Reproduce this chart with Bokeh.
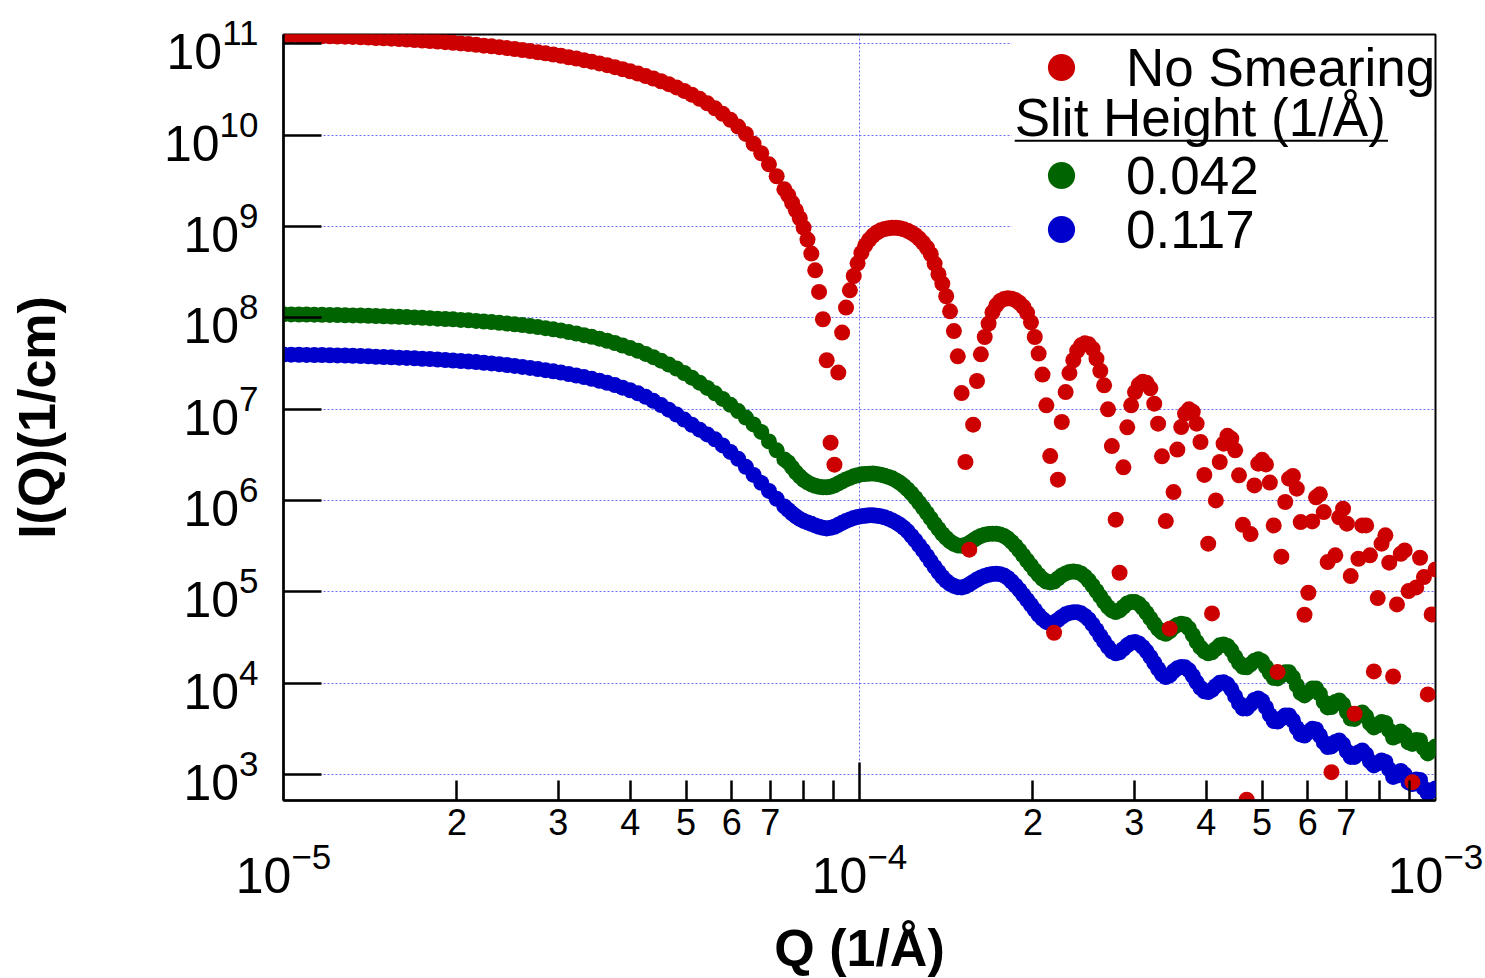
from bokeh.plotting import figure
from bokeh.models import (Range1d, LogAxis, FixedTicker, CustomJSTickFormatter,
                          Legend, LegendItem, Label, BoxAnnotation)
from bokeh.embed import file_html
from bokeh.resources import INLINE

# ---------------- data (log10 values) ----------------
log10_q = [
    -5.0000, -4.9866, -4.9732, -4.9599, -4.9465, -4.9331, -4.9197, -4.9064, -4.8930, -4.8796,
    -4.8662, -4.8528, -4.8395, -4.8261, -4.8127, -4.7993, -4.7860, -4.7726, -4.7592, -4.7458,
    -4.7324, -4.7191, -4.7057, -4.6923, -4.6789, -4.6656, -4.6522, -4.6388, -4.6254, -4.6120,
    -4.5987, -4.5853, -4.5719, -4.5585, -4.5452, -4.5318, -4.5184, -4.5050, -4.4916, -4.4783,
    -4.4649, -4.4515, -4.4381, -4.4247, -4.4114, -4.3980, -4.3846, -4.3712, -4.3579, -4.3445,
    -4.3311, -4.3177, -4.3043, -4.2910, -4.2776, -4.2642, -4.2508, -4.2375, -4.2241, -4.2107,
    -4.1973, -4.1839, -4.1706, -4.1572, -4.1438, -4.1304,
    -4.1237, -4.1171, -4.1104, -4.1037, -4.0970, -4.0903, -4.0836, -4.0769, -4.0702, -4.0635,
    -4.0569, -4.0502, -4.0435, -4.0368, -4.0301, -4.0234, -4.0167, -4.0100, -4.0033, -3.9967,
    -3.9900, -3.9833, -3.9766, -3.9699, -3.9632, -3.9565, -3.9498, -3.9431, -3.9365, -3.9298,
    -3.9231, -3.9164, -3.9097, -3.9030, -3.8963, -3.8896, -3.8829, -3.8763, -3.8696, -3.8629,
    -3.8562, -3.8495, -3.8428, -3.8361, -3.8294, -3.8227, -3.8161, -3.8094, -3.8027, -3.7960,
    -3.7893, -3.7826, -3.7759, -3.7692, -3.7625, -3.7559, -3.7492, -3.7425, -3.7358, -3.7291,
    -3.7224, -3.7157, -3.7090, -3.7023, -3.6957, -3.6890, -3.6823, -3.6756, -3.6689, -3.6622,
    -3.6555, -3.6488, -3.6421, -3.6355, -3.6288, -3.6221, -3.6154, -3.6087, -3.6020, -3.5953,
    -3.5886, -3.5819, -3.5753, -3.5686, -3.5619, -3.5552, -3.5485, -3.5418, -3.5351, -3.5284,
    -3.5217, -3.5151, -3.5084, -3.5017, -3.4950, -3.4883, -3.4816, -3.4749, -3.4682, -3.4615,
    -3.4548, -3.4482, -3.4415, -3.4348, -3.4281, -3.4214, -3.4147, -3.4080, -3.4013, -3.3946,
    -3.3880, -3.3813, -3.3746, -3.3679, -3.3612, -3.3545, -3.3478, -3.3411, -3.3344, -3.3278,
    -3.3211, -3.3144, -3.3077, -3.3010, -3.2943, -3.2876, -3.2809, -3.2742, -3.2676, -3.2609,
    -3.2542, -3.2475, -3.2408, -3.2341, -3.2274, -3.2207, -3.2140, -3.2074, -3.2007, -3.1940,
    -3.1873, -3.1806, -3.1739, -3.1672, -3.1605, -3.1538, -3.1472, -3.1405, -3.1338, -3.1271,
    -3.1204, -3.1137, -3.1070, -3.1003, -3.0936, -3.0870, -3.0803, -3.0736, -3.0669, -3.0602,
    -3.0535, -3.0468, -3.0401, -3.0334, -3.0268, -3.0201, -3.0134, -3.0067, -3.0000,
]

log10_i_no_smearing = [
    11.095, 11.094, 11.092, 11.090, 11.088, 11.085, 11.083, 11.081, 11.079, 11.076,
    11.072, 11.069, 11.065, 11.061, 11.057, 11.053, 11.047, 11.043, 11.037, 11.032,
    11.025, 11.019, 11.012, 11.005, 10.998, 10.990, 10.981, 10.973, 10.964, 10.954,
    10.944, 10.933, 10.921, 10.909, 10.897, 10.884, 10.870, 10.854, 10.839, 10.822,
    10.805, 10.786, 10.767, 10.745, 10.723, 10.700, 10.675, 10.648, 10.621, 10.591,
    10.559, 10.524, 10.485, 10.444, 10.399, 10.349, 10.295, 10.234, 10.169, 10.095,
    10.014, 9.907, 9.803, 9.682, 9.551, 9.408,
    9.343, 9.261, 9.178, 9.091, 8.989, 8.858, 8.704, 8.521, 8.284, 7.985,
    7.536, 6.634, 6.393, 7.401, 7.839, 8.113, 8.302, 8.459, 8.598, 8.713,
    8.795, 8.855, 8.901, 8.935, 8.959, 8.973, 8.981, 8.986, 8.986, 8.981,
    8.970, 8.954, 8.932, 8.905, 8.869, 8.822, 8.768, 8.697, 8.595, 8.478,
    8.376, 8.237, 8.072, 7.856, 7.579, 7.177, 6.422, 5.462, 6.831, 7.309,
    7.601, 7.791, 7.938, 8.061, 8.138, 8.184, 8.206, 8.215, 8.211, 8.195,
    8.165, 8.122, 8.056, 7.952, 7.791, 7.609, 7.379, 7.043, 6.487, 4.553,
    6.229, 6.860, 7.188, 7.396, 7.536, 7.640, 7.700, 7.722, 7.711, 7.662,
    7.554, 7.421, 7.262, 6.999, 6.597, 5.791, 5.210, 6.364, 6.802, 7.043,
    7.188, 7.267, 7.300, 7.289, 7.229, 7.061, 6.842, 6.484, 5.775, 4.597,
    6.093, 6.558, 6.805, 6.952, 6.999, 6.972, 6.842, 6.641, 6.281, 5.528,
    4.764, 6.002, 6.422, 6.623, 6.709, 6.678, 6.550, 6.276, 5.734, 2.724,
    5.633, 6.166, 6.404, 6.446, 6.396, 6.197, 5.728, 4.122, 5.386, 5.984,
    6.240, 6.269, 6.130, 5.764, 4.750, 4.991, 5.772, 6.035, 6.068, 5.874,
    5.326, 3.026, 5.400, 5.816, 5.911, 5.747, 5.173, 3.666, 5.363, 5.728,
    5.728, 5.400, 4.129, 4.932, 5.528, 5.619, 5.320, 4.074, 4.863, 5.418,
    5.454, 5.009, 2.917, 5.049, 5.374, 5.162, 3.877, 4.753, 5.246,
]

log10_i_slit_0042 = [
    8.039, 8.038, 8.037, 8.036, 8.035, 8.034, 8.033, 8.031, 8.029, 8.027,
    8.025, 8.023, 8.021, 8.018, 8.015, 8.012, 8.009, 8.005, 8.001, 7.997,
    7.992, 7.988, 7.984, 7.978, 7.973, 7.967, 7.960, 7.954, 7.946, 7.938,
    7.930, 7.921, 7.911, 7.900, 7.888, 7.875, 7.861, 7.845, 7.829, 7.811,
    7.793, 7.773, 7.750, 7.725, 7.698, 7.670, 7.639, 7.606, 7.570, 7.532,
    7.490, 7.446, 7.397, 7.346, 7.291, 7.233, 7.174, 7.113, 7.048, 6.980,
    6.909, 6.834, 6.752, 6.648, 6.550, 6.451,
    6.418, 6.364, 6.309, 6.265, 6.227, 6.199, 6.177, 6.161, 6.150, 6.145,
    6.145, 6.152, 6.166, 6.188, 6.210, 6.232, 6.248, 6.265, 6.276, 6.287,
    6.292, 6.294, 6.295, 6.292, 6.284, 6.273, 6.259, 6.243, 6.221, 6.194,
    6.161, 6.122, 6.078, 6.029, 5.975, 5.920, 5.862, 5.805, 5.744, 5.690,
    5.635, 5.591, 5.553, 5.525, 5.509, 5.505, 5.514, 5.536, 5.564, 5.591,
    5.613, 5.627, 5.635, 5.638, 5.637, 5.629, 5.613, 5.586, 5.547, 5.503,
    5.454, 5.399, 5.344, 5.290, 5.235, 5.186, 5.142, 5.114, 5.104, 5.114,
    5.147, 5.180, 5.202, 5.218, 5.224, 5.218, 5.202, 5.169, 5.125, 5.070,
    5.010, 4.950, 4.890, 4.835, 4.797, 4.780, 4.797, 4.835, 4.874, 4.890,
    4.890, 4.868, 4.825, 4.770, 4.710, 4.650, 4.595, 4.556, 4.542, 4.567,
    4.611, 4.638, 4.650, 4.644, 4.600, 4.529, 4.453, 4.392, 4.349, 4.327,
    4.338, 4.376, 4.415, 4.425, 4.409, 4.360, 4.289, 4.223, 4.179, 4.174,
    4.207, 4.245, 4.262, 4.240, 4.179, 4.113, 4.059, 4.053, 4.086, 4.119,
    4.119, 4.064, 3.976, 3.894, 3.867, 3.899, 3.943, 3.943, 3.883, 3.795,
    3.735, 3.740, 3.795, 3.811, 3.768, 3.685, 3.614, 3.609, 3.658, 3.680,
    3.636, 3.560, 3.516, 3.538, 3.576, 3.565, 3.483, 3.406, 3.423, 3.472,
    3.439, 3.352, 3.335, 3.379, 3.374, 3.286, 3.231, 3.275, 3.308,
]

log10_i_slit_0117 = [
    7.598, 7.597, 7.596, 7.595, 7.594, 7.593, 7.591, 7.589, 7.587, 7.585,
    7.582, 7.579, 7.575, 7.571, 7.569, 7.565, 7.562, 7.558, 7.553, 7.549,
    7.544, 7.539, 7.533, 7.528, 7.522, 7.516, 7.509, 7.502, 7.493, 7.484,
    7.474, 7.463, 7.452, 7.440, 7.428, 7.415, 7.401, 7.386, 7.369, 7.352,
    7.333, 7.312, 7.289, 7.264, 7.236, 7.207, 7.174, 7.136, 7.092, 7.045,
    6.995, 6.942, 6.887, 6.830, 6.776, 6.724, 6.670, 6.604, 6.533, 6.457,
    6.369, 6.281, 6.194, 6.106, 6.019, 5.936,
    5.898, 5.860, 5.827, 5.799, 5.777, 5.761, 5.745, 5.728, 5.712, 5.701,
    5.695, 5.701, 5.712, 5.734, 5.756, 5.777, 5.794, 5.810, 5.821, 5.829,
    5.834, 5.838, 5.838, 5.834, 5.827, 5.816, 5.802, 5.783, 5.761, 5.734,
    5.701, 5.663, 5.613, 5.564, 5.509, 5.454, 5.394, 5.334, 5.273, 5.218,
    5.164, 5.120, 5.087, 5.065, 5.052, 5.049, 5.060, 5.082, 5.109, 5.136,
    5.158, 5.175, 5.188, 5.197, 5.199, 5.194, 5.180, 5.153, 5.114, 5.070,
    5.022, 4.967, 4.912, 4.858, 4.803, 4.748, 4.704, 4.671, 4.655, 4.660,
    4.693, 4.726, 4.754, 4.770, 4.778, 4.778, 4.765, 4.737, 4.699, 4.644,
    4.584, 4.518, 4.458, 4.398, 4.349, 4.327, 4.338, 4.376, 4.415, 4.442,
    4.451, 4.436, 4.398, 4.349, 4.289, 4.223, 4.157, 4.097, 4.068, 4.086,
    4.130, 4.163, 4.177, 4.174, 4.141, 4.081, 4.010, 3.950, 3.911, 3.904,
    3.928, 3.971, 4.004, 4.010, 3.988, 3.933, 3.856, 3.779, 3.724, 3.724,
    3.768, 3.817, 3.833, 3.806, 3.735, 3.653, 3.587, 3.581, 3.614, 3.647,
    3.647, 3.592, 3.510, 3.439, 3.428, 3.466, 3.501, 3.494, 3.428, 3.352,
    3.302, 3.308, 3.357, 3.374, 3.330, 3.253, 3.193, 3.193, 3.242, 3.264,
    3.220, 3.144, 3.100, 3.122, 3.155, 3.138, 3.056, 2.974, 2.990, 3.040,
    3.001, 2.914, 2.897, 2.946, 2.941, 2.848, 2.793, 2.826, 2.848,
]

series_labels = ["No Smearing", "0.042", "0.117"]
legend_header = "Slit Height (1/\u00c5)"
x_label = "Q (1/\u00c5)"
y_label = "I(Q)(1/cm)"
x_major_ticks = [1e-5, 1e-4, 1e-3]
x_minor_ticks = [2e-5, 3e-5, 4e-5, 5e-5, 6e-5, 7e-5, 8e-5, 9e-5,
                 2e-4, 3e-4, 4e-4, 5e-4, 6e-4, 7e-4, 8e-4, 9e-4]
y_ticks = [1e3, 1e4, 1e5, 1e6, 1e7, 1e8, 1e9, 1e10, 1e11]

q = [10 ** v for v in log10_q]
i_red = [10 ** v for v in log10_i_no_smearing]
i_green = [10 ** v for v in log10_i_slit_0042]
i_blue = [10 ** v for v in log10_i_slit_0117]

FONT = "Liberation Sans"
RED, GREEN, BLUE = "#cc0000", "#006400", "#0000cc"
MARKER = 16

p = figure(frame_width=1152, frame_height=766, x_axis_type="log", y_axis_type="log",
           x_range=Range1d(1e-5, 1e-3), y_range=Range1d(10 ** 2.716, 10 ** 11.103),
           output_backend="svg", toolbar_location=None,
           min_border_left=283, min_border_right=50, min_border_top=34,
           min_border_bottom=178)
p.background_fill_color = "white"
p.border_fill_color = "white"
p.outline_line_color = "black"
p.outline_line_width = 2

# y axis
ya = p.yaxis[0]
ya.ticker = FixedTicker(ticks=y_ticks, minor_ticks=[])
ya.major_tick_in = 38
ya.major_tick_out = 0
ya.minor_tick_in = 0
ya.minor_tick_out = 0
ya.major_tick_line_width = 2.5
ya.major_tick_line_color = "black"
ya.axis_line_width = 2.5
ya.axis_line_color = "black"
ya.major_label_text_font = FONT
ya.major_label_text_font_size = "50px"
ya.major_label_text_color = "black"
ya.major_label_standoff = 25
ya.axis_label = y_label
ya.axis_label_text_font = FONT
ya.axis_label_text_font_style = "bold"
ya.axis_label_text_font_size = "52px"
ya.axis_label_text_color = "black"
ya.axis_label_standoff = 95

# x axis A: digit labels + ticks
xa = p.xaxis[0]
xa.ticker = FixedTicker(ticks=x_minor_ticks, minor_ticks=[1e-4])
xa.formatter = CustomJSTickFormatter(code="""
    const e = Math.floor(Math.log10(tick) + 1e-9);
    const m = Math.round(tick / Math.pow(10, e));
    return m <= 7 ? String(m) : "";
""")
xa.major_tick_in = 20
xa.major_tick_out = 0
xa.minor_tick_in = 38
xa.minor_tick_out = 0
xa.major_tick_line_width = 2.5
xa.minor_tick_line_width = 2.5
xa.major_tick_line_color = "black"
xa.minor_tick_line_color = "black"
xa.axis_line_width = 2.5
xa.axis_line_color = "black"
xa.major_label_text_font = FONT
xa.major_label_text_font_size = "36px"
xa.major_label_text_color = "black"
xa.major_label_standoff = 8

# x axis B: decade labels
xb = LogAxis(ticker=FixedTicker(ticks=x_major_ticks, minor_ticks=[]),
             axis_line_color=None, major_tick_line_color=None, minor_tick_line_color=None,
             major_tick_in=0, major_tick_out=0, minor_tick_in=0, minor_tick_out=0,
             major_label_text_font=FONT, major_label_text_font_size="50px",
             major_label_text_color="black", major_label_standoff=4,
             axis_label=x_label, axis_label_text_font=FONT, axis_label_text_color="black",
             axis_label_text_font_style="bold", axis_label_text_font_size="52px",
             axis_label_standoff=23)
p.add_layout(xb, "below")

# grids
p.xgrid.ticker = FixedTicker(ticks=[1e-4])
p.ygrid.ticker = FixedTicker(ticks=y_ticks)
for g in (p.xgrid[0], p.ygrid[0]):
    g.grid_line_color = "#6a6aff"
    g.grid_line_dash = "2 2"
    g.grid_line_width = 1
    g.grid_line_alpha = 1.0

r_blue = p.scatter(q, i_blue, size=MARKER, fill_color=BLUE, line_color=None)
r_green = p.scatter(q, i_green, size=MARKER, fill_color=GREEN, line_color=None)
r_red = p.scatter(q, i_red, size=MARKER, fill_color=RED, line_color=None)

# white panel behind the legend (covers the grid there)
legend_bg = BoxAnnotation(left=1.838e-4, right=9.93e-4, bottom=4.85e8, top=1.21e11,
                          fill_color="white", fill_alpha=1.0, line_color=None,
                          level="annotation")
p.add_layout(legend_bg)

# one transparent legend per entry, positioned in screen pixels from the frame's bottom-left
legend_rows = [(series_labels[0], r_red, 699),
               (series_labels[1], r_green, 591),
               (series_labels[2], r_blue, 537)]
for text, rend, ypos in legend_rows:
    lg = Legend(items=[LegendItem(label=text, renderers=[rend])],
                location=(733, ypos), margin=0, padding=0, spacing=0,
                glyph_width=90, glyph_height=68, label_standoff=20,
                label_text_font=FONT, label_text_font_size="53px",
                label_text_color="black",
                border_line_color=None, background_fill_alpha=0.0)
    p.add_layout(lg)

underline = BoxAnnotation(left=1.86e-4, right=8.27e-4,
                          bottom=10 ** 9.929, top=10 ** 9.951,
                          fill_color="black", fill_alpha=1.0, line_color=None,
                          level="overlay")
p.add_layout(underline)
header = Label(x=1.86e-4, y=1e10, y_offset=18, text=legend_header, text_font=FONT,
               text_font_size="53px", text_baseline="alphabetic", text_align="left",
               text_color="black", level="overlay")
p.add_layout(header)

open("out.html", "w").write(file_html(p, INLINE))
